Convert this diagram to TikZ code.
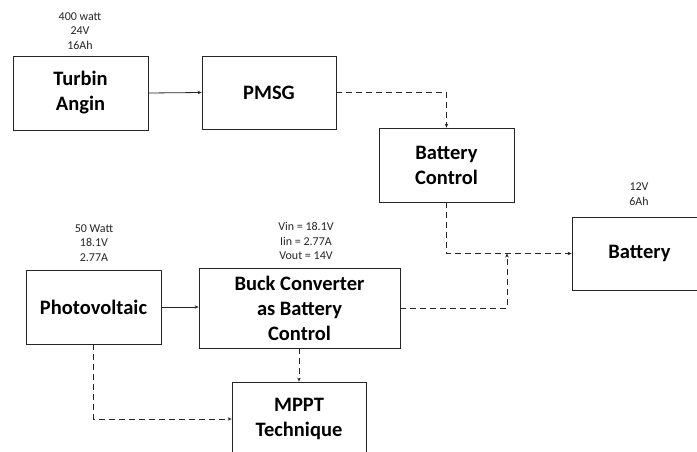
\documentclass[tikz,border=0pt]{standalone}
\usepackage{fontspec}
\setmainfont{Carlito}
\usetikzlibrary{arrows.meta}

\tikzset{
  block/.style={draw=black!85, line width=0.8pt, fill=white, align=center,
    inner sep=0pt, font=\bfseries\fontsize{20.5}{25}\selectfont},
  lbl/.style={align=center, inner sep=0pt, text=black!85,
    font=\fontsize{12}{14.5}\selectfont},
  link/.style={draw=black!85, line width=0.8pt,
    -{Stealth[length=4pt,width=3.5pt]}},
  dlink/.style={link, dash pattern=on 6pt off 4pt},
}

\begin{document}
\begin{tikzpicture}[x=1pt, y=-1pt]
  \path[use as bounding box] (0,0) rectangle (697,452);
  \clip (0,0) rectangle (697,452);

  % blocks
  \node[block, minimum width=135pt, minimum height=74pt] (turb) at (80.5,93) {Turbin\\Angin};
  \node[block, minimum width=134pt, minimum height=73pt] (pmsg) at (269,92.5) {PMSG};
  \node[block, minimum width=135pt, minimum height=74pt] (bc) at (446.5,165) {Battery\\Control};
  \node[block, minimum width=135pt, minimum height=73pt] (bat) at (639.5,253.5) {Battery};
  \node[block, minimum width=135pt, minimum height=74pt] (pv) at (93.5,307) {Photovoltaic};
  \node[block, minimum width=201pt, minimum height=80pt] (buck) at (299.5,308) {Buck Converter\\as Battery\\Control};
  \node[block, minimum width=134pt, minimum height=74pt] (mppt) at (299,419) {MPPT\\Technique};

  % ratings
  \node[lbl] (rturb) at (80,31) {400 watt\\24V\\16Ah};
  \node[lbl] (rpv) at (94,243) {50 Watt\\18.1V\\2.77A};
  \node[lbl] (rbuck) at (306,241) {Vin = 18.1V\\Iin = 2.77A\\Vout = 14V};
  \node[lbl] (rbat) at (639,194) {12V\\6Ah};

  % junction on the battery bus
  \coordinate (j) at (507,253.5);

  % connectors
  \draw[link] (turb.east) -- (pmsg.west);
  \draw[dlink] (pmsg.east) -| (bc.north);
  \draw[dlink] (bc.south) |- (bat.west);
  \draw[link] (pv.east) -- (pv.east -| buck.west);
  \draw[dlink] (buck.east) -| (j);
  \draw[dlink] (buck.south -| mppt.north) -- (mppt.north);
  \draw[dlink] (pv.south) |- (mppt.west);
\end{tikzpicture}
\end{document}
